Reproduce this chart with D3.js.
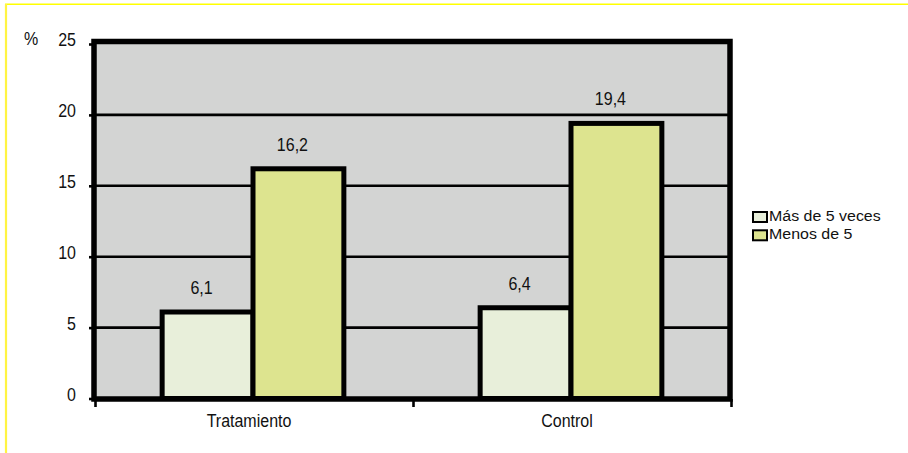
<!DOCTYPE html>
<html>
<head>
<meta charset="utf-8">
<script src="https://cdn.jsdelivr.net/npm/d3@7"></script>
<style>
  html, body { margin: 0; padding: 0; background: #ffffff; }
  svg { display: block; }
  text { font-family: Arial, "Liberation Sans", sans-serif; fill: #111; }
</style>
</head>
<body>
<svg id="chart" width="908" height="453"></svg>
<script>
// Data
const categories = ["Tratamiento", "Control"];
const seriesNames = ["Más de 5 veces", "Menos de 5"];
const masDe5 = [6.1, 6.4];
const menosDe5 = [16.2, 19.4];
const yTicks = [0, 5, 10, 15, 20, 25];
const seriesColors = ["#e8efda", "#dde48f"];

const rows = categories.map((c, i) => ({ cat: c, values: [masDe5[i], menosDe5[i]] }));

const W = 908, H = 453;
const plot = { left: 94, right: 730, top: 41.5, bottom: 399 };
const textScaleY = 1.17;

const svg = d3.select("#chart");

// Outer frame (yellow, top and left edges)
svg.append("line").attr("x1", 5).attr("x2", W).attr("y1", 4.3).attr("y2", 4.3)
  .attr("stroke", "#ffff00").attr("stroke-width", 1.6);
svg.append("line").attr("x1", 6).attr("x2", 6).attr("y1", 4).attr("y2", H)
  .attr("stroke", "#fff443").attr("stroke-width", 2.2);

// Scales
const y = d3.scaleLinear().domain([0, 25]).range([398.5, 44]);
const x0 = d3.scaleBand().domain(categories).range([plot.left, plot.right]).padding(0);
const x1 = d3.scaleBand().domain(seriesNames).range([0, x0.bandwidth()])
  .paddingInner(0).paddingOuter(0.75);

// Plot background
svg.append("rect")
  .attr("x", plot.left).attr("y", plot.top)
  .attr("width", plot.right - plot.left).attr("height", plot.bottom - plot.top)
  .attr("fill", "#d3d4d3");

// Gridlines
svg.append("g").selectAll("line").data(yTicks.filter(t => t > 0 && t < 25)).join("line")
  .attr("x1", plot.left).attr("x2", plot.right)
  .attr("y1", d => y(d)).attr("y2", d => y(d))
  .attr("stroke", "#000").attr("stroke-width", 2.6);

// Y axis ticks and labels
const yAxis = d3.axisLeft(y).tickValues(yTicks).tickSize(5).tickPadding(0).tickFormat(d3.format("d"));
const gy = svg.append("g").attr("transform", `translate(${plot.left},0)`).call(yAxis);
gy.select(".domain").remove();
gy.selectAll(".tick line").attr("stroke", "#000").attr("stroke-width", 2.6);
gy.selectAll(".tick text").remove();
svg.append("g").selectAll("text").data(yTicks).join("text")
  .attr("transform", d => `translate(76,${y(d) + 2}) scale(1,${textScaleY})`)
  .attr("text-anchor", "end")
  .attr("font-size", 16)
  .text(d => d);

svg.append("text")
  .attr("transform", `translate(24,45) scale(1,${textScaleY})`)
  .attr("font-size", 16)
  .text("%");

// Bars
const groups = svg.append("g").selectAll("g").data(rows).join("g")
  .attr("transform", d => `translate(${x0(d.cat)},0)`);

groups.selectAll("rect").data(d => d.values.map((v, i) => ({ v, s: seriesNames[i], i }))).join("rect")
  .attr("x", d => x1(d.s))
  .attr("y", d => y(d.v))
  .attr("width", x1.bandwidth())
  .attr("height", d => y(0) - y(d.v))
  .attr("fill", d => seriesColors[d.i])
  .attr("stroke", "#000")
  .attr("stroke-width", 5);

// Value labels
groups.selectAll("text").data(d => d.values.map((v, i) => ({ v, s: seriesNames[i] }))).join("text")
  .attr("transform", d => `translate(${x1(d.s) + x1.bandwidth() / 2 - 6},${y(d.v) - 18}) scale(1,${textScaleY})`)
  .attr("text-anchor", "middle")
  .attr("font-size", 16)
  .text(d => d3.format(".1f")(d.v).replace(".", ","));

// Plot frame
svg.append("rect")
  .attr("x", plot.left).attr("y", plot.top)
  .attr("width", plot.right - plot.left).attr("height", plot.bottom - plot.top)
  .attr("fill", "none").attr("stroke", "#000").attr("stroke-width", 5.5);

// Category axis: ticks at band boundaries
const boundaries = categories.map(c => x0(c)).concat([plot.right]);
svg.append("g").selectAll("line").data(boundaries).join("line")
  .attr("x1", d => d + 1.5).attr("x2", d => d + 1.5)
  .attr("y1", plot.bottom).attr("y2", 407)
  .attr("stroke", "#000").attr("stroke-width", 2.6);

svg.append("g").selectAll("text").data(categories).join("text")
  .attr("transform", d => `translate(${x0(d) + x0.bandwidth() / 2 - 4},426.5) scale(1,${textScaleY})`)
  .attr("text-anchor", "middle")
  .attr("font-size", 16)
  .text(d => d);

// Legend
const legend = svg.append("g").selectAll("g").data(seriesNames).join("g")
  .attr("transform", (d, i) => `translate(753,${212 + i * 18.3})`);
legend.append("rect")
  .attr("width", 14).attr("height", 10)
  .attr("fill", (d, i) => seriesColors[i])
  .attr("stroke", "#000").attr("stroke-width", 2);
legend.append("text")
  .attr("transform", "translate(16,8.6) scale(1.03,1)")
  .attr("font-size", 15.5)
  .text(d => d);
</script>
</body>
</html>
